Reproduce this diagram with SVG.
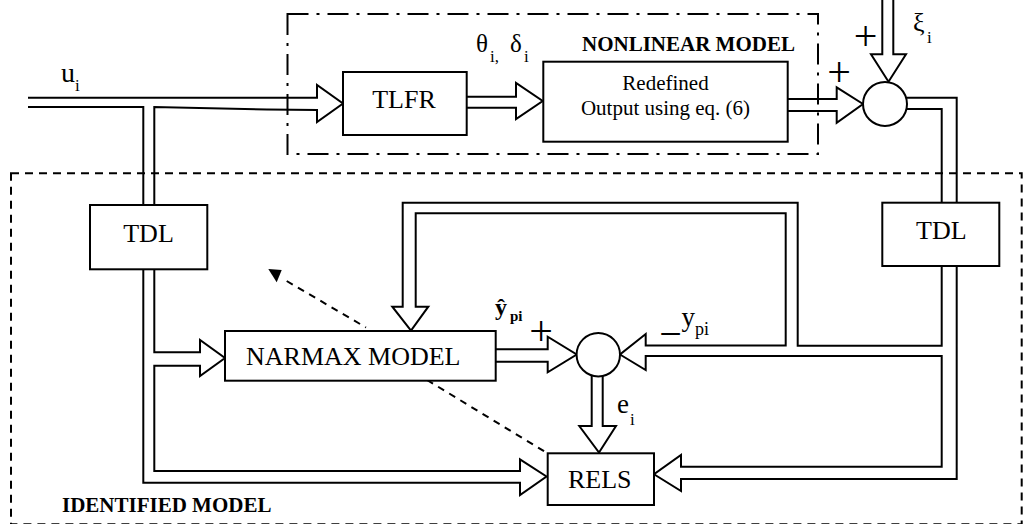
<svg xmlns="http://www.w3.org/2000/svg" width="1023" height="524" viewBox="0 0 1023 524">
<style>
.ln{fill:none;stroke:#000;stroke-width:2;stroke-linejoin:miter}
.box{fill:#fff;stroke:#000;stroke-width:2}
.t{font-family:"Liberation Serif","Times New Roman",serif;fill:#000}
.b{font-family:"Liberation Serif","Times New Roman",serif;font-weight:bold;fill:#000}
.dash{fill:none;stroke:#000;stroke-width:2;stroke-dasharray:8 6}
.dd{fill:none;stroke:#000;stroke-width:2;stroke-dasharray:21 8 3 8}
</style>
<rect width="1023" height="524" fill="#fff"/>
<g id="identified-model">
<rect class="dash" x="11" y="173.3" width="1010.7" height="351"/>
<text class="b" x="62" y="511.5" font-size="21">IDENTIFIED MODEL</text>
</g>
<g id="nonlinear-model">
<rect class="dd" x="287.5" y="14" width="530.5" height="140"/>
<text class="b" x="582" y="50.5" font-size="21">NONLINEAR MODEL</text>
</g>
<g id="connectors">
<path class="ln" d="M28,97.7 H317 V85 L343,103.5 L317,122 V110 L267,109.5 L154.3,107 V205"/>
<path class="ln" d="M28,107 H143.3 V205"/>
<path class="ln" d="M154.3,269.3 V352.3 H200 V340 L225,358 L200,376 V365.7 H154.3 V471 H520 V459.3 L546.5,476.5 L520,495 V482.7 H143.3 V269.3"/>
<path class="ln" d="M466.7,96.7 H516 V83 L542.7,101 L516,119 V107.7 H466.7"/>
<path class="ln" d="M787.7,99 H836.7 V87.3 L863,104 L836.7,122.7 V111 H787.7"/>
<path class="ln" d="M882.3,0 V54.3 H871 L888.5,81.7 L906,54.3 H893.3 V0"/>
<path class="ln" d="M906.1,97.7 H956.7 V202.7 M906.4,109 H941.7 V202.7"/>
<path class="ln" d="M941.7,266 V345.7 H797.7 V202.7 H402.7 V306.7 H392.3 L411,330.7 L428.3,306.7 H415.7 V213.3 H785.7 V345.5 H645.7 V334 L620,354.5 L645.7,370 V356 H941.7 V466.7 H681 V455 L654,474.3 L681,491 V479 H956.7 V266"/>
<path class="ln" d="M495.7,349.3 H547.7 V336.7 L576.7,354.5 L547.7,372.3 V361.7 H495.7"/>
<path class="ln" d="M591.7,375 V426 H579.3 L599,452.5 L616,426 H602.7 V375.5"/>
<path class="ln" stroke-dasharray="7 6" d="M286.7,281 L366,327.5 M427,380 L547,453"/>
<polygon points="268.3,269 281.7,270 276.7,282.3" fill="#000"/>
</g>
<g id="labels">
<text class="t" x="61" y="82" font-size="28">u</text>
<text class="t" x="75" y="90.5" font-size="17">i</text>
<text class="t" x="476" y="51.5" font-size="25">θ</text>
<text class="t" x="490" y="61.5" font-size="17">i,</text>
<text class="t" x="510" y="51.5" font-size="25">δ</text>
<text class="t" x="524" y="61.5" font-size="17">i</text>
<text class="t" x="913" y="31" font-size="26">ξ</text>
<text class="t" x="927" y="43" font-size="17">i</text>
<text class="t" x="865.7" y="50" font-size="42" text-anchor="middle">+</text>
<text class="t" x="839" y="86" font-size="42" text-anchor="middle">+</text>
<text class="t" x="541" y="345" font-size="42" text-anchor="middle">+</text>
<text class="t" x="670.5" y="347" font-size="40" text-anchor="middle">−</text>
<text class="b" x="495" y="315" font-size="24">ŷ</text>
<text class="b" x="510" y="320.5" font-size="15">pi</text>
<text class="t" x="681.5" y="326" font-size="27">y</text>
<text class="t" x="695" y="335" font-size="18">pi</text>
<text class="t" x="617" y="413.3" font-size="27">e</text>
<text class="t" x="630" y="425" font-size="17">i</text>
</g>
<g id="tlfr"><rect class="box" x="343" y="72" width="123.7" height="63"/><text class="t" x="404" y="107.5" font-size="26" text-anchor="middle">TLFR</text></g>
<g id="redefined-output"><rect class="box" x="543.3" y="61.7" width="244.4" height="80"/><text class="t" x="665.5" y="90" font-size="21" text-anchor="middle">Redefined</text><text class="t" x="665.5" y="115" font-size="21" text-anchor="middle">Output using eq. (6)</text></g>
<g id="sum1"><circle class="box" cx="885" cy="104" r="22"/></g>
<g id="tdl-left"><rect class="box" x="90" y="205" width="117.3" height="64.3"/><text class="t" x="148.5" y="241.5" font-size="26" text-anchor="middle">TDL</text></g>
<g id="tdl-right"><rect class="box" x="882.3" y="202.7" width="117" height="63.3"/><text class="t" x="941.3" y="238.5" font-size="26" text-anchor="middle">TDL</text></g>
<g id="narmax"><rect class="box" x="225" y="331" width="270.7" height="49.7"/><text class="t" x="246" y="365" font-size="26">NARMAX MODEL</text></g>
<g id="sum2"><circle class="box" cx="598.3" cy="354.7" r="21.7"/></g>
<g id="rels"><rect class="box" x="547.7" y="453.3" width="106.3" height="51.7"/><text class="t" x="568" y="488.3" font-size="26">RELS</text></g>
</svg>
